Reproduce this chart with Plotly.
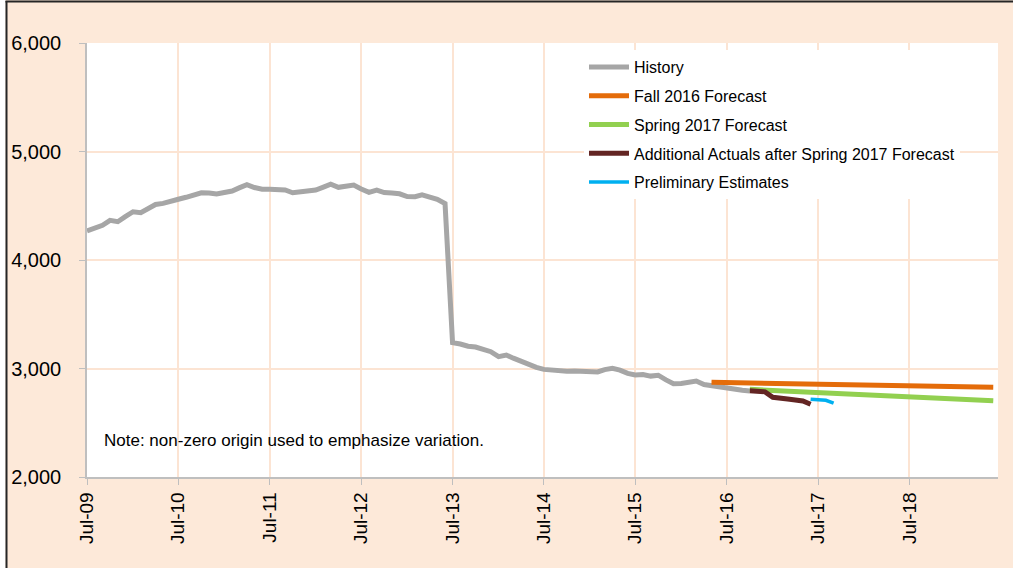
"""
Monthly series chart: history, two forecasts, later actuals and preliminary estimates.
Non-zero origin (2,000) to emphasize variation.
"""
import pandas as pd
import plotly.graph_objects as go


# ---- data ----
START = "2009-07-01"

history = [
    4267, 4290, 4320, 4365, 4353, 4400, 4445, 4436, 4478, 4512, 4522, 4545,
    4560, 4578, 4600, 4620, 4618, 4608, 4622, 4636, 4665, 4695, 4668, 4652,
    4652, 4645, 4645, 4620, 4630, 4645, 4645, 4672, 4698, 4670, 4680, 4690,
    4655, 4624, 4645, 4622, 4618, 4610, 4585, 4583, 4600, 4585, 4560, 4520,
    3238, 3226, 3205, 3198, 3178, 3155, 3109, 3124, 3095, 3063, 3040, 3010,
    2992, 2983, 2978, 2975, 2977, 2975, 2972, 2968, 2990, 3002, 2985, 2955,
    2940, 2945, 2930, 2938, 2895, 2860, 2862, 2872, 2885, 2852, 2840, 2828,
    2818, 2808, 2800, 2793,
]

# Fall 2016 forecast, May-16 .. Jun-19
fall_2016_start = "2016-05-01"
fall_2016 = [
    2873, 2872, 2871, 2869, 2868, 2867, 2866, 2865, 2863, 2862,
    2861, 2860, 2859, 2858, 2857, 2856, 2854, 2853, 2852, 2851,
    2849, 2848, 2846, 2845, 2844, 2843, 2841, 2840, 2839, 2838,
    2836, 2835, 2834, 2833, 2831, 2830, 2829, 2828,
]

# Spring 2017 forecast, Oct-16 .. Jun-19
spring_2017_start = "2016-10-01"
spring_2017 = [
    2808, 2805, 2801, 2798, 2794, 2791, 2787, 2784, 2780, 2777,
    2774, 2771, 2768, 2765, 2762, 2759, 2756, 2753, 2750, 2747,
    2744, 2741, 2738, 2735, 2731, 2728, 2724, 2721, 2717, 2713,
    2710, 2706, 2703,
]

# Additional actuals after Spring 2017 forecast, Oct-16 .. Jun-17
actuals_start = "2016-10-01"
actuals = [2795, 2788, 2785, 2735, 2722, 2718, 2710, 2700, 2670]

# Preliminary estimates, Jun-17 .. Sep-17
prelim_start = "2017-06-01"
prelim = [2717, 2715, 2707, 2680]

tick_years = [2009, 2010, 2011, 2012, 2013, 2014, 2015, 2016, 2017, 2018]


def months(start, n):
    return pd.date_range(start, periods=n, freq="MS")


# ---- styles ----
FONT = "Liberation Sans, Arial, sans-serif"
PAPER_BG = "#FDE9D9"
GRID = "#FCE4D3"
AXIS = "#BFBFBF"

W, H = 1013, 568
ML, MR, MT, MB = 87, 15, 43, 91
PW, PH = W - ML - MR, H - MT - MB


def px_x(px):
    return (px - ML) / PW


def px_y(py):
    return 1 - (py - MT) / PH


series = [
    ("History", START, history, "#A6A6A6", 5),
    ("Fall 2016 Forecast", fall_2016_start, fall_2016, "#E46C0A", 5),
    ("Spring 2017 Forecast", spring_2017_start, spring_2017, "#92D050", 5),
    ("Additional Actuals after Spring 2017 Forecast", actuals_start, actuals, "#632523", 5),
    ("Preliminary Estimates", prelim_start, prelim, "#00B0F0", 3.5),
]

fig = go.Figure()
for i, (name, start, vals, color, width) in enumerate(series):
    fig.add_trace(go.Scatter(
        x=months(start, len(vals)),
        y=vals,
        mode="lines",
        name=name,
        legendgroup=f"g{i}",
        line=dict(color=color, width=width),
        hovertemplate="%{x|%b-%y}: %{y:,.0f}<extra>" + name + "</extra>",
    ))

fig.add_annotation(
    text="Note: non-zero origin used to emphasize variation.",
    xref="paper", yref="paper",
    x=px_x(102), y=px_y(440),
    xanchor="left", yanchor="middle",
    showarrow=False,
    font=dict(size=17, color="black", family=FONT),
)

# frame of the original chart: white strip + dark left and top borders
shapes = [
    dict(type="rect", xref="paper", yref="paper",
         x0=px_x(0), x1=px_x(5.5), y0=px_y(H), y1=px_y(0),
         fillcolor="white", line=dict(width=0), layer="below"),
    dict(type="line", xref="paper", yref="paper",
         x0=px_x(6.5), x1=px_x(6.5), y0=px_y(H), y1=px_y(1),
         line=dict(color="#262626", width=2)),
    dict(type="line", xref="paper", yref="paper",
         x0=px_x(5.5), x1=px_x(W), y0=px_y(1.5), y1=px_y(1.5),
         line=dict(color="#262626", width=2)),
]

fig.update_layout(
    width=W, height=H,
    margin=dict(l=ML, r=MR, t=MT, b=MB, autoexpand=False),
    paper_bgcolor=PAPER_BG,
    plot_bgcolor="white",
    font=dict(family=FONT, color="black"),
    shapes=shapes,
    showlegend=True,
    legend=dict(
        x=px_x(584), y=px_y(50),
        xanchor="left", yanchor="top",
        bgcolor="white",
        borderwidth=0,
        font=dict(size=16, family=FONT, color="black"),
        tracegroupgap=5,
        itemwidth=40,
    ),
    xaxis=dict(
        type="date",
        range=["2009-07-01", "2019-06-20"],
        tickvals=[f"{y}-07-01" for y in tick_years],
        ticktext=[f"Jul-{y % 100:02d}" for y in tick_years],
        tickangle=-90,
        tickfont=dict(size=19),
        ticks="outside", ticklen=6, tickcolor=AXIS,
        showline=True, linecolor=AXIS, linewidth=1.5,
        showgrid=True, gridcolor=GRID, gridwidth=2,
        zeroline=False,
    ),
    yaxis=dict(
        range=[2000, 6000],
        tickvals=[2000, 3000, 4000, 5000, 6000],
        tickformat=",",
        tickfont=dict(size=20),
        ticks="outside", ticklen=6, tickcolor=AXIS,
        ticklabelstandoff=14,
        showline=True, linecolor=AXIS, linewidth=1.5,
        showgrid=True, gridcolor=GRID, gridwidth=2,
        zeroline=False,
    ),
)

# the page's default body margin would shift the chart by 8px
fig.write_html(
    "out.html",
    config={"displayModeBar": False},
    post_script="document.body.style.margin='0';",
)
